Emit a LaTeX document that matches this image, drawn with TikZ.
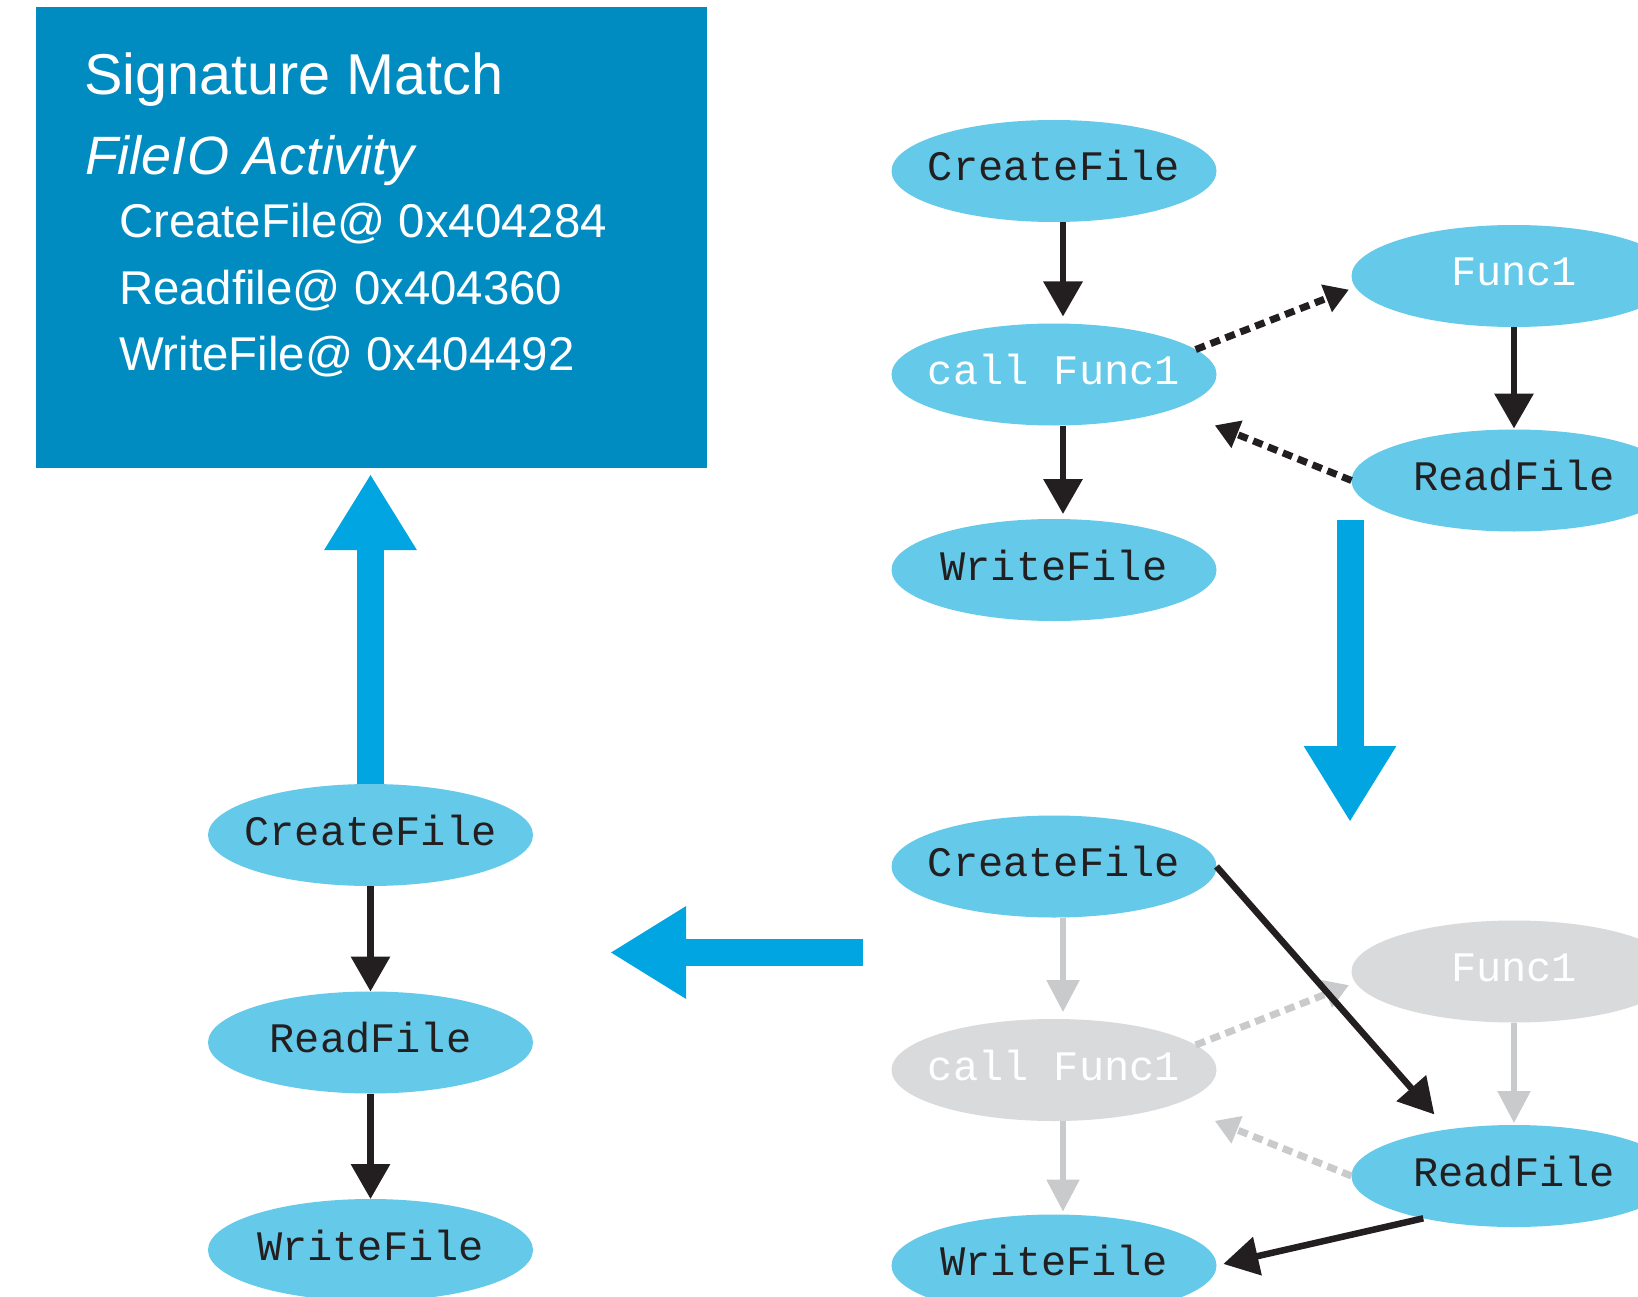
\documentclass[tikz,border=0pt]{standalone}
\usepackage{fontspec}
\setmainfont{Liberation Sans}
\newfontfamily\codefont{Liberation Mono}
\usetikzlibrary{arrows.meta,shapes.geometric}

\definecolor{boxblue}{HTML}{008BC1}
\definecolor{flowblue}{HTML}{00A5E1}
\definecolor{nodeblue}{HTML}{65CAE9}
\definecolor{nodegray}{HTML}{D9DADC}
\definecolor{edgegray}{HTML}{C9CACC}
\definecolor{ink}{HTML}{231F20}

% node text takes no width, so every ellipse keeps the same size
\newcommand{\lbl}[1]{\makebox[0pt]{#1}}

\begin{document}
\begin{tikzpicture}[x=1pt,y=-1pt,
  fn/.style={ellipse, fill=nodeblue, minimum width=325pt, minimum height=102pt,
    inner sep=0pt, outer sep=0pt, text height=20pt, text depth=0pt,
    font=\codefont\fontsize{42}{42}\selectfont, text=ink},
  fnwhite/.style={fn, text=white},
  fngray/.style={fn, fill=nodegray, text=white},
  flow/.style={line width=6.5pt, draw=ink, -{Triangle[length=35pt,width=38pt]}},
  flowgray/.style={line width=5.5pt, draw=edgegray, -{Triangle[length=32pt,width=32pt]}},
  callflow/.style={line width=7pt, draw=ink, dash pattern=on 10pt off 6pt,
    -{Triangle[length=24pt,width=28pt]}},
  callgray/.style={callflow, draw=edgegray},
  bigflow/.style={line width=27pt, draw=flowblue, -{Triangle[length=76pt,width=87pt]}},
  boxtext/.style={anchor=base west, inner sep=0pt, outer sep=0pt, text=white},
  addr/.style={boxtext, font=\fontsize{47.4}{47.4}\selectfont},
]
\path[use as bounding box, clip] (0,0) rectangle (1638,1297);
\fill[white] (0,0) rectangle (1638,1297);

% signature box
\node[fill=boxblue, minimum width=671pt, minimum height=461pt, inner sep=0pt,
  outer sep=0pt, anchor=north west] (sig) at (36,7) {};
\node[boxtext, font=\fontsize{57.6}{57.6}\selectfont] (sigtitle) at (84,95) {Signature Match};
\node[boxtext, font=\itshape\fontsize{54}{54}\selectfont] (sigsub) at (85,175) {FileIO Activity};
\node[addr] (sigcf) at (119,238) {CreateFile@ 0x404284};
\node[addr] (sigrf) at (119,305) {Readfile@ 0x404360};
\node[addr] (sigwf) at (119,370) {WriteFile@ 0x404492};

% call graph with the call into Func1
\node[fn]      (cfA)   at (1054,171)   {\lbl{CreateFile}};
\node[fnwhite] (callA) at (1054,374.5) {\lbl{call Func1}};
\node[fn]      (wfA)   at (1054,570)   {\lbl{WriteFile}};
\node[fnwhite] (fA)    at (1514,276)   {\lbl{Func1}};
\node[fn]      (rfA)   at (1514,480.5) {\lbl{ReadFile}};

\draw[flow] ([xshift=9pt]cfA.south) -- ([xshift=9pt]callA.north) [shorten >=7pt];
\draw[flow] ([xshift=9pt]callA.south) -- ([xshift=9pt]wfA.north) [shorten >=5pt];
\draw[flow] (fA.south) -- (rfA.north) [shorten >=1pt];
\draw[callflow] (callA.10) -- (fA.184) [shorten >=7pt];
\draw[callflow] (rfA.west) -- (callA.-16) [shorten >=44pt];

% the same graph with Func1 inlined
\node[fn]      (cfB)   at (1054,866.5)  {\lbl{CreateFile}};
\node[fngray]  (callB) at (1054,1070)   {\lbl{call Func1}};
\node[fn]      (wfB)   at (1054,1265.5) {\lbl{WriteFile}};
\node[fngray]  (fB)    at (1514,971.5)  {\lbl{Func1}};
\node[fn]      (rfB)   at (1514,1176)   {\lbl{ReadFile}};

\draw[flowgray] ([xshift=9pt]cfB.south) -- ([xshift=9pt]callB.north) [shorten >=7pt];
\draw[flowgray] ([xshift=9pt]callB.south) -- ([xshift=9pt]wfB.north) [shorten >=3pt];
\draw[flowgray] (fB.south) -- (rfB.north) [shorten >=2pt];
\draw[callgray] (callB.10) -- (fB.184) [shorten >=7pt];
\draw[callgray] (rfB.west) -- (callB.-16) [shorten >=44pt];
\draw[flow] (cfB.east) -- (rfB.145) [shorten >=20pt];
\draw[flow] (rfB.205) -- (wfB.east) [shorten >=7pt];

% resulting API sequence
\node[fn] (cfC) at (370.5,835)    {\lbl{CreateFile}};
\node[fn] (rfC) at (370.5,1042.5) {\lbl{ReadFile}};
\node[fn] (wfC) at (370.5,1250)   {\lbl{WriteFile}};
\draw[flow] (cfC.south) -- (rfC.north);
\draw[flow] (rfC.south) -- (wfC.north);

% transitions between the stages
\coordinate (downstart) at (1350,520);
\coordinate (downend)   at (1350,822);
\coordinate (leftstart) at (863,952.5);
\coordinate (leftend)   at (610,952.5);
\draw[bigflow] (downstart) -- (downend);
\draw[bigflow] (leftstart) -- (leftend);
\draw[bigflow] (cfC.north) -- (cfC.north |- sig.south) [shorten >=6pt];
\end{tikzpicture}
\end{document}
